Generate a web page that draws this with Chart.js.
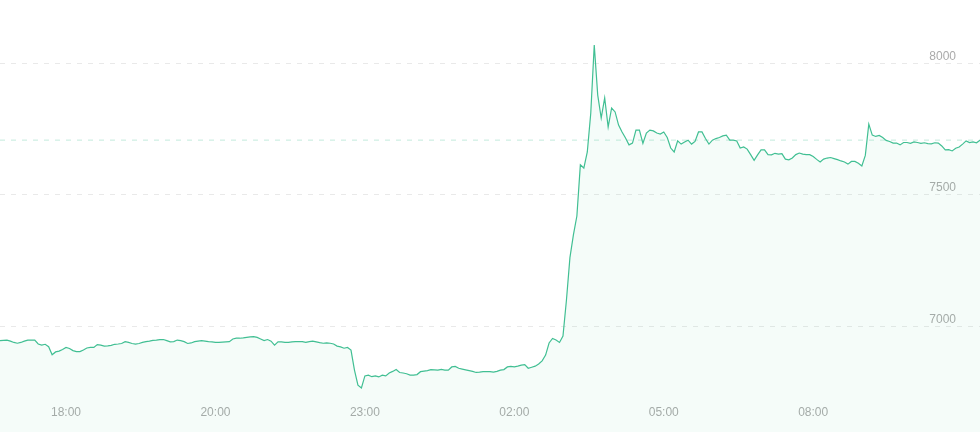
<!DOCTYPE html>
<html>
<head>
<meta charset="utf-8">
<script src="https://cdn.jsdelivr.net/npm/chart.js@4/dist/chart.umd.min.js"></script>
<style>
  html, body { margin: 0; padding: 0; background: #ffffff; }
  #wrap { width: 980px; height: 432px; position: relative; }
</style>
</head>
<body>
<div id="wrap"><canvas id="c"></canvas></div>
<script>
// Price series (one value per sample, left to right)
const prices = [
  6947,6948,6949,6945,6940,6937,6940,6945,6949,6949,
  6949,6934,6930,6933,6924,6893,6904,6907,6913,6921,
  6917,6909,6905,6905,6911,6919,6921,6921,6932,6930,
  6926,6927,6929,6933,6934,6936,6943,6940,6936,6934,
  6936,6940,6943,6945,6948,6949,6951,6951,6947,6942,
  6943,6949,6947,6943,6936,6938,6943,6945,6947,6945,
  6943,6942,6940,6940,6941,6942,6943,6953,6956,6956,
  6957,6959,6961,6962,6959,6953,6947,6951,6945,6930,
  6942,6942,6940,6940,6942,6943,6943,6943,6940,6943,
  6945,6942,6939,6937,6938,6937,6934,6926,6923,6918,
  6921,6911,6835,6778,6767,6813,6816,6810,6813,6809,
  6816,6813,6824,6830,6837,6826,6824,6821,6816,6816,
  6818,6829,6831,6833,6837,6836,6835,6838,6835,6835,
  6847,6849,6842,6839,6836,6833,6830,6826,6827,6829,
  6829,6829,6827,6830,6835,6837,6847,6849,6847,6850,
  6854,6856,6842,6846,6850,6858,6870,6892,6938,6955,
  6949,6940,6964,7101,7262,7348,7420,7614,7602,7663,
  7811,8069,7879,7792,7868,7758,7830,7815,7765,7739,
  7716,7690,7697,7746,7746,7696,7735,7746,7743,7735,
  7731,7739,7718,7678,7663,7705,7693,7701,7708,7693,
  7703,7739,7739,7714,7693,7708,7714,7718,7724,7727,
  7708,7708,7705,7678,7682,7674,7653,7631,7652,7671,
  7671,7653,7652,7658,7655,7657,7636,7633,7640,7653,
  7659,7655,7653,7653,7646,7635,7625,7636,7640,7642,
  7638,7634,7629,7625,7617,7627,7627,7620,7610,7650,
  7769,7727,7722,7726,7718,7707,7703,7697,7697,7690,
  7699,7699,7696,7701,7699,7696,7698,7695,7694,7698,
  7697,7686,7671,7672,7667,7677,7682,7693,7705,7699,
  7701,7698,7708
];
// Latest price, shown as a dashed reference line
const currentPrice = 7708;
// Time labels on the x axis and the sample index each one sits at
const timeLabels = ["18:00", "20:00", "23:00", "02:00", "05:00", "08:00"];
const timeLabelIndex = [19, 62, 105, 148, 191, 234];
// Value axis
const yMin = 6600;
const yMax = 8240;
const yTicks = [7000, 7500, 8000];

const categories = prices.map((_, i) => i);
const priceLine = prices.map(() => currentPrice);
const tickFont = { family: '"Liberation Sans", Arial, sans-serif', size: 12 };

new Chart(document.getElementById('c'), {
  type: 'line',
  data: {
    labels: categories,
    datasets: [
      {
        data: prices,
        borderColor: '#41bf93',
        borderWidth: 1.2,
        backgroundColor: 'rgba(65,191,147,0.05)',
        fill: 'start',
        pointRadius: 0,
        tension: 0,
        order: 0
      },
      {
        data: priceLine,
        borderColor: 'rgba(65,191,147,0.32)',
        borderWidth: 1,
        borderDash: [5, 6],
        fill: false,
        pointRadius: 0,
        order: 1
      }
    ]
  },
  options: {
    responsive: true,
    maintainAspectRatio: false,
    animation: false,
    layout: { padding: 0 },
    plugins: { legend: { display: false }, tooltip: { enabled: false } },
    events: [],
    scales: {
      x: {
        type: 'category',
        position: { y: yMin },
        offset: false,
        grid: { display: false },
        border: { display: false },
        ticks: {
          autoSkip: false,
          maxRotation: 0,
          minRotation: 0,
          padding: -35,
          color: '#aaaaaa',
          font: tickFont,
          callback: (v, i) => {
            const k = timeLabelIndex.indexOf(i);
            return k >= 0 ? timeLabels[k] : null;
          }
        }
      },
      y: {
        position: 'right',
        min: yMin,
        max: yMax,
        afterFit: (s) => { s.width = 0; },
        afterBuildTicks: (s) => { s.ticks = yTicks.map(v => ({ value: v })); },
        border: { display: false, dash: [5, 6] },
        grid: {
          color: '#e9e9e9',
          lineWidth: 1,
          drawTicks: false
        },
        ticks: {
          mirror: true,
          padding: -24,
          labelOffset: -7,
          color: '#aaaaaa',
          font: tickFont,
          callback: (v) => String(v)
        }
      }
    }
  }
});
</script>
</body>
</html>
